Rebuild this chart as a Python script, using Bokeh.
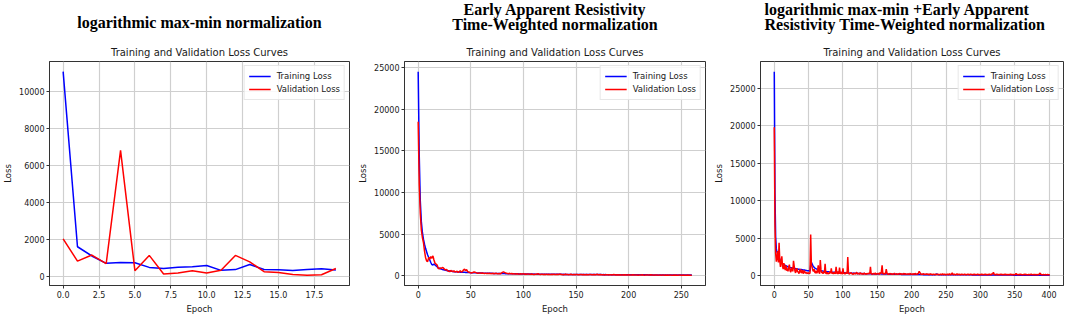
from bokeh.plotting import figure
from bokeh.layouts import row
from bokeh.models import Title, FixedTicker, NumeralTickFormatter
from bokeh.embed import file_html
from bokeh.resources import INLINE

# ---------------- data ----------------
sub_title = "Training and Validation Loss Curves"
head1 = ["logarithmic max-min normalization"]
head2 = ["Early Apparent Resistivity", "Time-Weighted normalization"]
head3 = ["logarithmic max-min +Early Apparent", "Resistivity Time-Weighted normalization"]

tr1 = [11100, 1600, 1100, 700, 740, 730, 480, 420, 490, 520,
       580, 320, 360, 640, 370, 350, 310, 370, 410, 340]
va1 = [2030, 820, 1150, 690, 6830, 300, 1130, 120, 180, 300,
       170, 330, 1130, 780, 250, 200, 90, 50, 80, 420]

tr2 = [24500, 14500, 9000, 6500, 5200, 4400, 3800, 3300, 2900, 2500, 2200, 1900, 1600, 1350, 1300, 1400, 1300, 1200, 1100, 950,
       900, 850, 800, 760, 730, 700, 680, 650, 620, 600, 580, 560, 540, 520, 500, 490, 480, 470, 460, 450,
       440, 430, 425, 420, 415, 410, 400, 395, 390, 385, 380, 375, 370, 365, 360, 355, 350, 345, 340, 335,
       330, 325, 320, 318, 315, 312, 310, 305, 300, 298, 295, 292, 290, 288, 285, 282, 280, 278, 275, 272,
       270, 268, 265, 262, 260, 258, 255, 252, 250, 248, 245, 243, 240, 238, 236, 234, 232, 230, 228, 226,
       225, 218, 222, 210, 215, 208, 212, 205, 210, 200, 206, 198, 203, 195, 200, 192, 198, 190, 196, 188,
       194, 186, 192, 185, 190, 183, 188, 182, 186, 180, 184, 178, 182, 176, 180, 175, 178, 173, 176, 171,
       174, 170, 172, 168, 171, 166, 169, 165, 167, 163, 166, 161, 164, 160, 162, 158, 161, 156, 159, 155,
       158, 153, 156, 152, 155, 150, 153, 149, 152, 147, 150, 146, 149, 144, 147, 143, 146, 141, 144, 140,
       143, 139, 141, 137, 140, 136, 138, 134, 137, 133, 135, 131, 134, 130, 132, 129, 131, 127, 130, 126,
       128, 125, 127, 123, 126, 122, 124, 121, 123, 119, 122, 118, 120, 117, 119, 115, 118, 114, 116, 113,
       115, 111, 114, 110, 112, 109, 111, 107, 110, 106, 108, 105, 107, 103, 106, 102, 104, 101, 103, 99,
       102, 98, 100, 97, 99, 95, 98, 94, 96, 93, 95, 91, 94, 90, 92, 89, 91, 87, 90, 86,
       85]
va2 = [18500, 11000, 7500, 5500, 4600, 4000, 3000, 2200, 1800, 1700, 2200, 2000, 2300, 2100, 2400, 1900, 1500, 1400, 1300, 900,
       850, 950, 900, 1000, 950, 800, 700, 750, 600, 550, 500, 650, 550, 500, 600, 450, 500, 550, 400, 500,
       600, 450, 500, 700, 800, 600, 750, 500, 450, 400, 380, 350, 400, 450, 420, 380, 320, 300, 350, 330,
       300, 340, 310, 280, 320, 290, 300, 270, 310, 260, 290, 300, 250, 280, 310, 260, 240, 280, 250, 300,
       420, 480, 400, 350, 300, 280, 250, 300, 240, 270, 220, 260, 230, 210, 250, 220, 200, 240, 210, 230,
       260, 200, 220, 190, 230, 210, 200, 180, 220, 190, 170, 200, 180, 210, 240, 190, 170, 200, 180, 160,
       190, 170, 200, 160, 180, 150, 170, 190, 160, 200, 170, 150, 180, 160, 190, 210, 150, 170, 140, 160,
       180, 150, 170, 140, 160, 190, 150, 140, 170, 130, 150, 160, 140, 130, 170, 150, 130, 160, 140, 120,
       150, 140, 130, 160, 170, 140, 130, 150, 120, 140, 180, 130, 120, 150, 140, 120, 130, 110, 140, 120,
       130, 110, 140, 120, 100, 130, 150, 110, 120, 100, 130, 110, 120, 100, 110, 130, 100, 120, 90, 110,
       120, 100, 110, 90, 120, 100, 90, 110, 100, 80, 110, 90, 100, 120, 90, 80, 100, 110, 90, 100,
       110, 130, 90, 100, 80, 110, 90, 100, 80, 90, 110, 80, 100, 90, 80, 100, 70, 90, 80, 100,
       90, 70, 80, 100, 70, 90, 80, 70, 90, 110, 80, 70, 90, 80, 60, 80, 100, 70, 80, 60,
       70]

tr3 = [27200, 11000, 5200, 3600, 3100, 3300, 2700, 2400, 2200, 2000, 1850, 1750, 1650, 1600, 1500, 1450, 1400, 1350, 1300, 1250,
       1200, 1180, 1150, 1120, 1100, 1080, 1050, 1030, 1010, 1000, 980, 960, 950, 930, 920, 900, 890, 870, 860, 850,
       840, 820, 800, 790, 780, 760, 740, 720, 700, 690, 680, 660, 640, 1400, 1800, 1600, 1400, 1250, 1150, 1050,
       1000, 950, 900, 860, 820, 780, 750, 720, 700, 680, 660, 640, 620, 600, 590, 580, 570, 560, 550, 540,
       530, 520, 515, 510, 505, 500, 495, 490, 485, 480, 475, 470, 465, 460, 455, 450, 448, 445, 442, 440,
       430, 420, 440, 410, 400, 420, 390, 400, 380, 390, 370, 380, 360, 370, 360, 350, 360, 340, 350, 340,
       330, 340, 330, 320, 330, 310, 320, 310, 300, 310, 300, 310, 290, 300, 290, 300, 280, 290, 280, 290,
       280, 270, 280, 270, 280, 260, 270, 260, 270, 260, 250, 260, 250, 330, 300, 280, 270, 260, 250, 260,
       250, 240, 250, 240, 250, 240, 230, 240, 230, 240, 230, 220, 230, 220, 230, 220, 230, 220, 210, 220,
       210, 220, 210, 220, 210, 200, 210, 200, 210, 200, 210, 200, 200, 190, 200, 190, 200, 190, 200, 190,
       190, 200, 190, 180, 190, 180, 190, 180, 190, 180, 190, 180, 200, 190, 180, 190, 180, 170, 180, 170,
       180, 170, 180, 170, 180, 170, 170, 180, 170, 160, 170, 160, 170, 160, 170, 160, 250, 220, 190, 170,
       170, 160, 170, 160, 170, 160, 160, 170, 160, 150, 160, 150, 160, 150, 160, 150, 160, 150, 160, 150,
       150, 160, 150, 160, 150, 150, 160, 150, 140, 150, 140, 150, 140, 150, 140, 150, 140, 150, 140, 150,
       140, 150, 140, 150, 140, 140, 150, 140, 130, 140, 130, 140, 130, 140, 130, 140, 130, 140, 130, 140,
       130, 140, 130, 140, 130, 130, 140, 130, 120, 130, 120, 130, 120, 130, 120, 130, 120, 130, 120, 130,
       140, 130, 120, 130, 120, 130, 120, 120, 130, 120, 110, 120, 110, 120, 110, 120, 110, 120, 110, 120,
       110, 120, 110, 120, 110, 110, 120, 110, 100, 110, 100, 110, 100, 110, 100, 110, 100, 110, 100, 110,
       100, 110, 100, 110, 100, 100, 110, 100, 90, 100, 90, 100, 90, 100, 90, 100, 90, 100, 90, 100,
       90, 100, 90, 100, 90, 90, 100, 90, 80, 90, 80, 90, 80, 90, 80, 90, 80, 90, 80, 90,
       80, 90]
va3 = [19800, 7000, 3000, 1900, 2500, 3300, 1800, 4400, 2100, 1200, 1900, 2600, 1300, 900, 1700, 1100, 800, 1400, 700, 1000,
       600, 1200, 1500, 700, 500, 900, 1100, 600, 2000, 1300, 700, 400, 800, 1000, 500, 600, 300, 700, 900, 400,
       500, 800, 300, 600, 700, 350, 500, 400, 300, 450, 350, 300, 400, 5500, 1500, 1200, 800, 600, 900, 500,
       400, 700, 350, 600, 1400, 500, 300, 2100, 800, 400, 500, 300, 600, 400, 1600, 350, 300, 500, 250, 400,
       300, 600, 350, 1000, 300, 450, 250, 500, 350, 300, 1200, 400, 300, 600, 250, 1100, 350, 300, 500, 250,
       1000, 300, 400, 250, 350, 500, 300, 2500, 400, 250, 300, 350, 450, 250, 300, 200, 400, 300, 250, 350,
       500, 250, 300, 350, 200, 450, 300, 250, 350, 200, 300, 400, 250, 300, 200, 350, 250, 300, 400, 250,
       1200, 300, 250, 200, 350, 300, 250, 400, 200, 300, 250, 350, 300, 200, 450, 250, 600, 1400, 300, 250,
       350, 250, 300, 900, 400, 250, 200, 300, 250, 350, 200, 300, 250, 200, 300, 350, 250, 200, 300, 250,
       200, 300, 250, 350, 200, 250, 300, 200, 250, 350, 200, 300, 250, 200, 250, 300, 200, 250, 350, 200,
       250, 200, 300, 250, 200, 350, 250, 200, 300, 250, 400, 600, 450, 300, 200, 250, 200, 300, 250, 200,
       250, 200, 300, 200, 250, 150, 200, 300, 200, 250, 150, 200, 250, 200, 150, 250, 200, 150, 250, 200,
       150, 200, 250, 150, 200, 300, 150, 200, 250, 150, 200, 150, 250, 200, 150, 300, 200, 150, 250, 400,
       200, 150, 250, 200, 150, 200, 300, 150, 200, 250, 150, 200, 150, 250, 200, 150, 200, 250, 150, 200,
       150, 200, 250, 150, 200, 150, 250, 200, 150, 200, 150, 250, 150, 200, 150, 200, 250, 150, 200, 150,
       200, 150, 250, 150, 200, 150, 200, 250, 150, 200, 150, 200, 150, 250, 150, 200, 150, 300, 250, 500,
       250, 150, 200, 150, 250, 150, 200, 150, 200, 150, 250, 150, 200, 150, 200, 150, 250, 150, 200, 150,
       200, 150, 200, 150, 250, 150, 200, 150, 200, 150, 150, 200, 350, 150, 200, 150, 200, 150, 250, 150,
       200, 150, 150, 200, 150, 250, 150, 200, 150, 150, 200, 150, 200, 150, 250, 150, 150, 200, 150, 200,
       150, 200, 150, 150, 200, 150, 250, 400, 150, 200, 150, 150, 200, 150, 150, 200, 150, 150, 200, 150,
       150, 120]

x1_ticks = [0, 2.5, 5, 7.5, 10, 12.5, 15, 17.5]
y1_ticks = [0, 2000, 4000, 6000, 8000, 10000]
x2_ticks = [0, 50, 100, 150, 200, 250]
y2_ticks = [0, 5000, 10000, 15000, 20000, 25000]
x3_ticks = [0, 50, 100, 150, 200, 250, 300, 350, 400]
y3_ticks = [0, 5000, 10000, 15000, 20000, 25000]

FONT = "DejaVu Sans"
SERIF = "Liberation Serif"
TXT = "#1a1a1a"


def make(tr, va, xt, yt, xfmt, heads, bl, br, head_align, head_offset, gaps):
    n = len(tr)
    xs = list(range(n))
    lo = min(min(tr), min(va))
    hi = max(max(tr), max(va))
    xm = (n - 1) * 0.05
    ym = (hi - lo) * 0.05
    p = figure(width=bl + br + 303, height=316,
               x_range=(-xm, n - 1 + xm), y_range=(lo - ym, hi + ym),
               output_backend="svg", toolbar_location=None,
               min_border_left=bl, min_border_right=br,
               min_border_top=61, min_border_bottom=28)
    p.title = None
    # innermost first: sub title, then header lines from bottom to top
    p.add_layout(Title(text=sub_title, text_font=FONT, text_font_size="10px",
                       text_font_style="normal", text_color=TXT,
                       align="center", standoff=8), "above")
    for line, gap in zip(reversed(heads), gaps):
        t = Title(text=line, text_font=SERIF, text_font_size="16px",
                  text_font_style="bold", text_color="#000000",
                  align=head_align, offset=head_offset, standoff=gap)
        p.add_layout(t, "above")

    p.line(xs, tr, color="#0000ff", line_width=1.5, legend_label="Training Loss")
    p.line(xs, va, color="#ff0000", line_width=1.5, legend_label="Validation Loss")

    for ax in (p.xaxis[0], p.yaxis[0]):
        ax.axis_label_text_font = FONT
        ax.axis_label_text_font_size = "8.5px"
        ax.axis_label_text_font_style = "normal"
        ax.axis_label_text_color = TXT
        ax.major_label_text_font = FONT
        ax.major_label_text_font_size = "8px"
        ax.major_label_text_color = TXT
        ax.axis_line_color = "#333333"
        ax.major_tick_line_color = "#333333"
        ax.major_tick_in = 0
        ax.major_tick_out = 3
        ax.minor_tick_line_color = None
        ax.major_label_standoff = 2
        ax.axis_label_standoff = 3
    p.xaxis.axis_label = "Epoch"
    p.yaxis.axis_label = "Loss"
    p.xaxis.ticker = FixedTicker(ticks=xt)
    p.yaxis.ticker = FixedTicker(ticks=yt)
    p.xaxis.formatter = NumeralTickFormatter(format=xfmt)
    p.yaxis.formatter = NumeralTickFormatter(format="0")
    p.grid.grid_line_color = "#cfcfcf"
    p.grid.grid_line_width = 1.2
    p.outline_line_color = "#333333"
    p.outline_line_width = 1
    p.background_fill_color = "white"
    p.border_fill_color = "white"

    lg = p.legend[0]
    lg.location = "top_right"
    lg.label_text_font = FONT
    lg.label_text_font_size = "8.5px"
    lg.label_text_color = TXT
    lg.border_line_color = "#d0d0d0"
    lg.background_fill_alpha = 0.85
    lg.glyph_width = 22
    lg.glyph_height = 12
    lg.label_height = 12
    lg.label_standoff = 6
    lg.spacing = 1
    lg.padding = 4
    lg.margin = 4
    return p


p1 = make(tr1, va1, x1_ticks, y1_ticks, "0.0", head1, 46, 6, "center", 0, [20])
p2 = make(tr2, va2, x2_ticks, y2_ticks, "0", head2, 47, 6, "center", 0, [15, -22])
p3 = make(tr3, va3, x3_ticks, y3_ticks, "0", head3, 49, 3, "left", 4, [15, -22])

lay = row(p1, p2, p3, spacing=0)
open("out.html", "w").write(file_html(lay, INLINE))
